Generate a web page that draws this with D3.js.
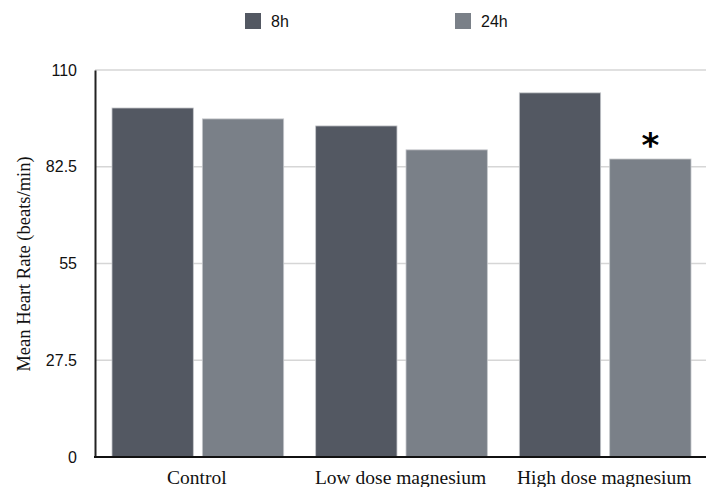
<!DOCTYPE html>
<html>
<head>
<meta charset="utf-8">
<script src="https://cdn.jsdelivr.net/npm/d3@7"></script>
<style>
  body { margin: 0; background: #fff; }
  svg { display: block; }
</style>
</head>
<body>
<div id="chart"></div>
<script>
// data
const groups = ["Control", "Low dose magnesium", "High dose magnesium"]
const seriesNames = ["8h", "24h"]
const values8h = [99.2, 94.1, 103.5]
const values24h = [96.1, 87.3, 84.7]
const yTicks = [0, 27.5, 55, 82.5, 110]
const significant = [null, null, "24h"]

const colors = {"8h": "#535862", "24h": "#7a8088"}

const width = 713, height = 487
const margin = {top: 70, right: 7, bottom: 30, left: 95}

const svg = d3.select("#chart").append("svg")
    .attr("width", width)
    .attr("height", height)

// scales
const x0 = d3.scaleBand()
    .domain(groups)
    .range([margin.left, width - margin.right])

const x1 = d3.scaleBand()
    .domain(seriesNames)
    .range([17, x0.bandwidth() - 15])
    .paddingInner(0.1)

const y = d3.scaleLinear()
    .domain([0, 110])
    .range([height - margin.bottom, margin.top])

// gridlines
svg.append("g")
    .selectAll("line")
    .data(yTicks.filter(d => d > 0))
    .join("line")
    .attr("x1", margin.left)
    .attr("x2", width - margin.right)
    .attr("y1", d => y(d))
    .attr("y2", d => y(d))
    .attr("stroke", "#d6d6d6")
    .attr("stroke-width", 1.5)

// y axis
const yAxis = d3.axisLeft(y)
    .tickValues(yTicks)
    .tickSize(0)
    .tickPadding(18)
    .tickFormat(d => d)

svg.append("g")
    .attr("transform", `translate(${margin.left},0)`)
    .call(yAxis)
    .call(g => g.select(".domain").attr("stroke", "#222").attr("stroke-width", 2))
    .call(g => g.selectAll("text")
        .attr("font-family", "Liberation Sans, Arial, sans-serif")
        .attr("font-size", 16)
        .attr("fill", "#111"))

// bars
const rows = groups.map((g, i) => ({group: g, values: [
    {key: "8h", value: values8h[i]},
    {key: "24h", value: values24h[i]}
]}))

const groupSel = svg.append("g")
    .selectAll("g")
    .data(rows)
    .join("g")
    .attr("transform", d => `translate(${x0(d.group)},0)`)

groupSel.selectAll("rect")
    .data(d => d.values)
    .join("rect")
    .attr("x", d => x1(d.key))
    .attr("y", d => y(d.value))
    .attr("width", x1.bandwidth())
    .attr("height", d => y(0) - y(d.value))
    .attr("fill", d => colors[d.key])
    .attr("stroke", "#c4c6ca")
    .attr("stroke-width", 0.8)

// significance star
groups.forEach((g, i) => {
    if (!significant[i]) return
    const v = significant[i] === "8h" ? values8h[i] : values24h[i]
    svg.append("text")
        .attr("x", x0(g) + x1(significant[i]) + x1.bandwidth() / 2)
        .attr("y", y(v) - 2)
        .attr("text-anchor", "middle")
        .attr("font-family", "DejaVu Sans, sans-serif")
        .attr("font-weight", "bold")
        .attr("font-size", 34)
        .attr("fill", "#000")
        .text("*")
})

// x axis line
svg.append("line")
    .attr("x1", margin.left - 1)
    .attr("x2", width - margin.right)
    .attr("y1", y(0))
    .attr("y2", y(0))
    .attr("stroke", "#111")
    .attr("stroke-width", 2)

// x labels
svg.append("g")
    .selectAll("text")
    .data(groups)
    .join("text")
    .attr("x", d => x0(d) + x0.bandwidth() / 2)
    .attr("y", 484)
    .attr("text-anchor", "middle")
    .attr("font-family", "Liberation Serif, Times New Roman, serif")
    .attr("font-size", 19.5)
    .attr("fill", "#111")
    .text(d => d)

// y title
svg.append("text")
    .attr("transform", "translate(30,264) rotate(-90)")
    .attr("text-anchor", "middle")
    .attr("font-family", "Liberation Serif, Times New Roman, serif")
    .attr("font-size", 18.5)
    .attr("fill", "#111")
    .text("Mean Heart Rate (beats/min)")

// legend
const legendX = [245, 455]
const legend = svg.append("g")
    .selectAll("g")
    .data(seriesNames)
    .join("g")
    .attr("transform", (d, i) => `translate(${legendX[i]},13)`)

legend.append("rect")
    .attr("width", 16)
    .attr("height", 16)
    .attr("fill", d => colors[d])

legend.append("text")
    .attr("x", 26)
    .attr("y", 14)
    .attr("font-family", "Liberation Sans, Arial, sans-serif")
    .attr("font-size", 16)
    .attr("fill", "#111")
    .text(d => d)
</script>
</body>
</html>
